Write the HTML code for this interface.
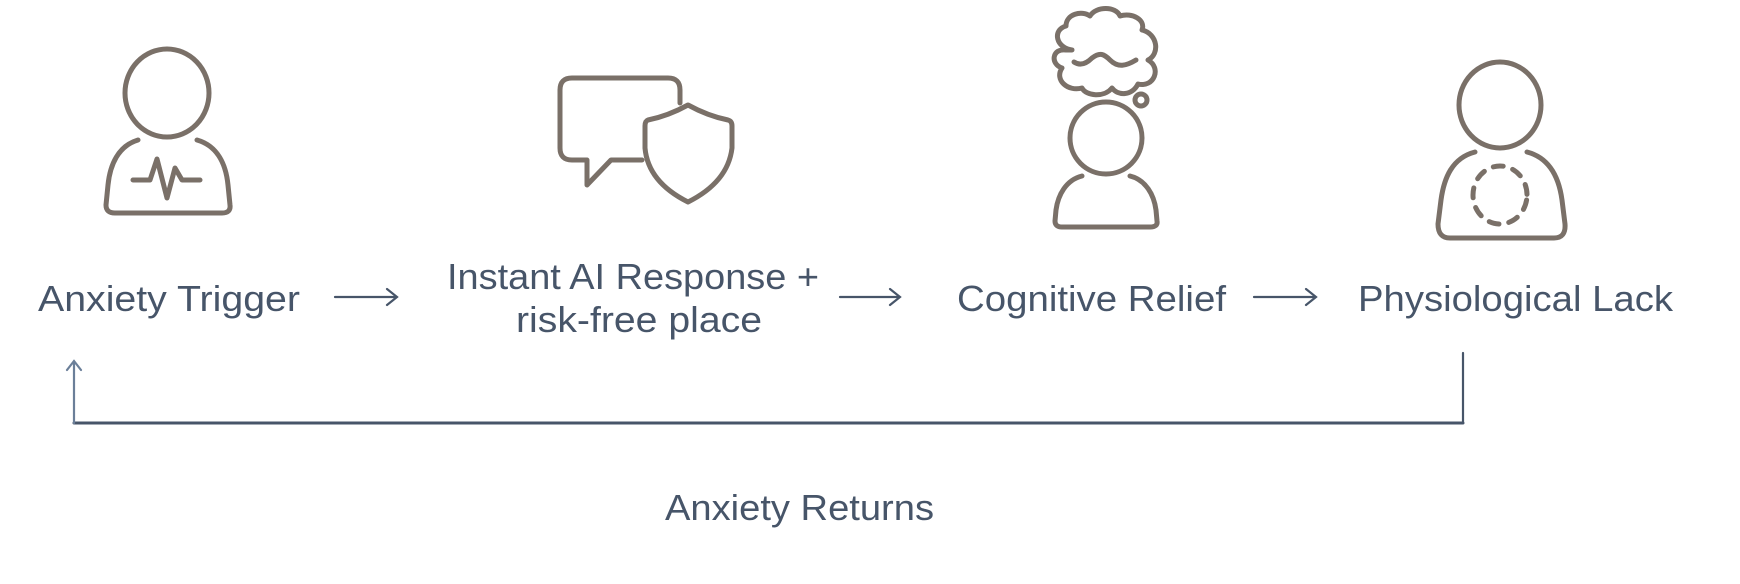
<!DOCTYPE html>
<html><head><meta charset="utf-8"><style>
html,body{margin:0;padding:0;background:#fff;}
svg{display:block;}
text{font-family:"Liberation Sans",sans-serif;fill:#475569;font-size:36px;}
</style></head><body>
<svg width="1740" height="584" viewBox="0 0 1740 584" xmlns="http://www.w3.org/2000/svg">
<g fill="none" stroke="#7a7068" stroke-width="5" stroke-linecap="round" stroke-linejoin="round">
  <ellipse cx="167" cy="93" rx="42" ry="44"/>
  <path d="M138 140 C118 146 110 165 108 185 L106 205 Q106 213 115 213 L222 213 Q231 213 230 205 L228 185 C226 165 218 146 197 140"/>
  <path d="M133 180 L150 180 L157 159 L167 198 L175 168 L182 180 L200 180"/>
  <path d="M680 103 L680 90 Q680 78 668 78 L572 78 Q560 78 560 90 L560 148 Q560 160 572 160 L587 160 L587 185 L611 160 L642 160"/>
  <path d="M688 105 Q668 116 648 120 Q645 121 645 126 L645 148 Q648 182 688 202 Q728 182 732 148 L732 126 Q732 121 728 120 Q708 116 688 105 Z"/>
  <path d="M1072 50 C1056 48 1052 30 1066 26 C1066 14 1082 10 1090 16 C1096 6 1116 6 1120 16 C1132 12 1146 20 1142 30 C1158 34 1160 54 1148 60 C1162 68 1154 88 1138 84 C1132 96 1118 96 1112 88 C1104 98 1086 96 1082 88 C1068 92 1054 80 1062 68 C1050 64 1052 48 1066 50 Z"/>
  <path d="M1074 62 C1080 66 1086 64 1092 58 C1100 52 1104 54 1110 60 C1118 68 1126 66 1136 60"/>
  <circle cx="1141" cy="100" r="6"/>
  <ellipse cx="1106" cy="138" rx="36" ry="36"/>
  <path d="M1082 176 C1066 180 1058 195 1056 210 L1055 221 Q1055 227 1062 227 L1150 227 Q1158 227 1157 221 L1156 210 C1154 195 1146 180 1130 176"/>
  <ellipse cx="1500" cy="105" rx="41" ry="43"/>
  <path d="M1475 152 C1452 158 1444 178 1441 200 L1438 224 Q1438 238 1450 238 L1554 238 Q1566 238 1565 224 L1562 200 C1559 178 1550 158 1527 152"/>
  <ellipse cx="1500" cy="195" rx="27" ry="29" stroke-dasharray="10 10" stroke-dashoffset="-5"/>
</g>
<g stroke="#475569" stroke-width="2.2" fill="none" stroke-linecap="round">
  <path d="M335 297 L397 297 M387 289 L397 297 L387 305"/>
  <path d="M840 297 L900 297 M890 289 L900 297 L890 305"/>
  <path d="M1254 297 L1316 297 M1306 289 L1316 297 L1306 305"/>
  <path d="M1463 353 L1463 422"/>
  <path d="M1463 423 L74 423" stroke-width="3"/>
  <path d="M74 423 L74 361 M67 370 L74 361 L81 370" stroke="#6b7f99"/>
</g>
<text x="38" y="311" textLength="262" lengthAdjust="spacingAndGlyphs">Anxiety Trigger</text>
<text x="447" y="289" textLength="372" lengthAdjust="spacingAndGlyphs">Instant AI Response +</text>
<text x="516" y="332" textLength="246" lengthAdjust="spacingAndGlyphs">risk-free place</text>
<text x="957" y="311" textLength="269" lengthAdjust="spacingAndGlyphs">Cognitive Relief</text>
<text x="1358" y="311" textLength="315" lengthAdjust="spacingAndGlyphs">Physiological Lack</text>
<text x="665" y="520" textLength="269" lengthAdjust="spacingAndGlyphs">Anxiety Returns</text>
</svg>
</body></html>
